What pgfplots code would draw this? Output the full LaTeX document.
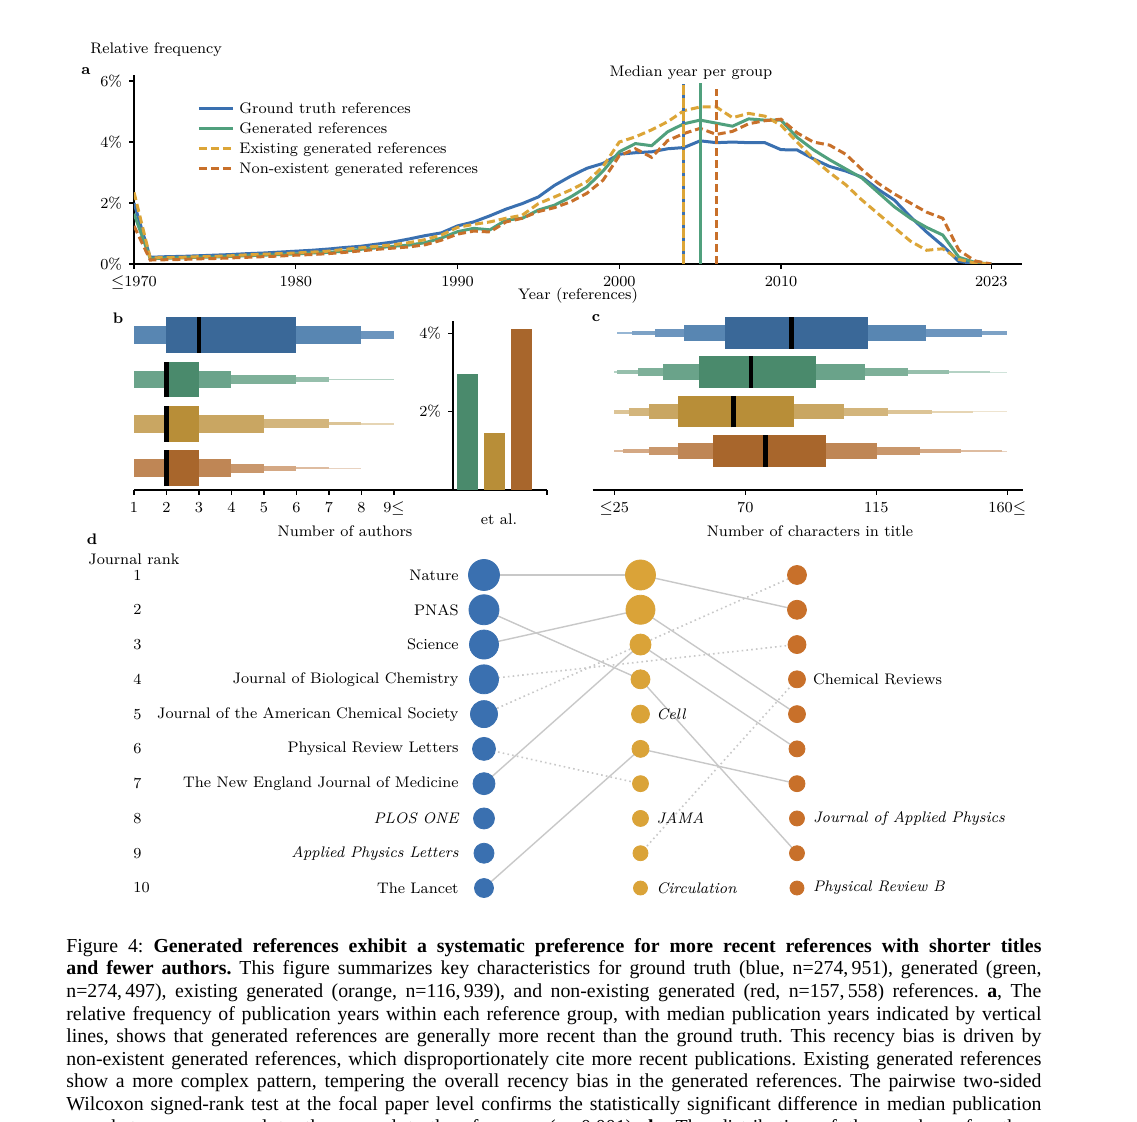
\documentclass[border=0pt]{standalone}
\usepackage{pgfplots}
\pgfplotsset{compat=1.18}
\usepackage{pgfplotstable}
\usepackage{fontspec}
\newfontfamily\capfont{Liberation Serif}

% line colours (panel a) and dot colours (panel d)
\definecolor{cGT}{RGB}{58,112,176}
\definecolor{cGen}{RGB}{80,160,125}
\definecolor{cEx}{RGB}{220,165,55}
\definecolor{cNon}{RGB}{200,112,42}
\definecolor{dEx}{RGB}{218,163,56}
\definecolor{link}{RGB}{200,200,200}
% boxen shades
\definecolor{b1}{RGB}{58,104,152}
\definecolor{b2}{RGB}{88,134,178}
\definecolor{b3}{RGB}{108,149,190}
\definecolor{b4}{RGB}{125,162,198}
\definecolor{b5}{RGB}{150,182,212}
\definecolor{g1}{RGB}{74,138,108}
\definecolor{g2}{RGB}{106,163,138}
\definecolor{g3}{RGB}{126,176,153}
\definecolor{g4}{RGB}{150,191,172}
\definecolor{g5}{RGB}{180,210,196}
\definecolor{g6}{RGB}{208,227,218}
\definecolor{o1}{RGB}{184,142,56}
\definecolor{o2}{RGB}{201,166,98}
\definecolor{o3}{RGB}{211,181,124}
\definecolor{o4}{RGB}{220,196,150}
\definecolor{o5}{RGB}{230,213,180}
\definecolor{o6}{RGB}{238,228,208}
\definecolor{r1}{RGB}{168,102,44}
\definecolor{r2}{RGB}{191,134,85}
\definecolor{r3}{RGB}{201,151,108}
\definecolor{r4}{RGB}{212,168,132}
\definecolor{r5}{RGB}{222,188,160}
\definecolor{r6}{RGB}{232,210,192}

\newcommand{\cf}{\fontsize{7.65}{9.2}\selectfont}
% one boxen level: colour, x from, x to, y low, y high
\newcommand{\bx}[5]{\addplot[fill=#1,draw=none,forget plot] coordinates {(#2,#4) (#3,#4) (#3,#5) (#2,#5)};}
% median bar
\newcommand{\md}[3]{\addplot[black,line width=2.4pt,forget plot] coordinates {(#1,#2) (#1,#3)};}
% one justified caption line
\newcommand{\cl}[1]{\hbox to 487.5pt{#1}}

\pgfplotsset{
  base/.style={scale only axis, font=\cf, tick align=outside,
    axis line style={line width=0.6pt}, tick style={line width=0.6pt,black},
    major tick length=2.5pt, clip=false},
  dots/.style={only marks, mark=*, mark options={draw=#1,fill=#1},
    visualization depends on={\thisrow{r}\as\rad}, scatter,
    scatter/@pre marker code/.style={/tikz/mark size=\rad},
    scatter/@post marker code/.style={}},
  lk/.style={link, line width=0.7pt, forget plot},
  lkd/.style={link, line width=0.8pt, dash pattern=on 0.8pt off 1.6pt, forget plot},
}

% relative frequency of publication years (%)
\pgfplotstableread{
year gt gen ex non
1970 2.00 1.65 2.35 1.25
1971 0.22 0.18 0.20 0.13
1972 0.24 0.19 0.21 0.14
1973 0.25 0.20 0.22 0.15
1974 0.27 0.22 0.24 0.17
1975 0.29 0.23 0.25 0.18
1976 0.31 0.25 0.27 0.20
1977 0.34 0.27 0.30 0.22
1978 0.36 0.29 0.32 0.24
1979 0.39 0.31 0.34 0.26
1980 0.42 0.33 0.36 0.29
1981 0.45 0.36 0.39 0.31
1982 0.49 0.38 0.42 0.34
1983 0.54 0.42 0.48 0.38
1984 0.58 0.48 0.53 0.43
1985 0.65 0.53 0.58 0.48
1986 0.72 0.58 0.63 0.52
1987 0.82 0.62 0.70 0.56
1988 0.93 0.70 0.80 0.63
1989 1.02 0.85 0.95 0.78
1990 1.25 1.06 1.20 0.98
1991 1.38 1.17 1.30 1.08
1992 1.58 1.12 1.38 1.05
1993 1.80 1.44 1.50 1.38
1994 1.98 1.50 1.60 1.50
1995 2.20 1.77 1.98 1.72
1996 2.58 1.93 2.20 1.85
1997 2.88 2.20 2.43 2.04
1998 3.14 2.53 2.70 2.32
1999 3.30 3.05 3.20 2.75
2000 3.60 3.68 4.00 3.55
2001 3.65 3.95 4.17 3.78
2002 3.68 3.88 4.40 3.50
2003 3.78 4.34 4.67 4.05
2004 3.82 4.60 5.03 4.28
2005 4.04 4.72 5.15 4.45
2006 3.98 4.62 5.15 4.25
2007 4.00 4.52 4.80 4.35
2008 3.98 4.76 4.94 4.60
2009 3.98 4.72 4.85 4.70
2010 3.75 4.72 4.55 4.75
2011 3.74 4.15 4.00 4.30
2012 3.45 3.75 3.45 4.00
2013 3.20 3.42 3.00 3.90
2014 3.05 3.12 2.60 3.60
2015 2.85 2.82 2.10 3.10
2016 2.45 2.35 1.65 2.65
2017 2.10 1.88 1.20 2.30
2018 1.55 1.50 0.75 2.00
2019 1.05 1.20 0.45 1.70
2020 0.60 0.95 0.50 1.50
2021 0.08 0.22 0.15 0.45
2022 0.02 0.05 0.03 0.10
2023 0.00 0.00 0.00 0.00
}\years

% journal ranks: column, rank, dot radius (pt)
\pgfplotstableread{
x y r
0 1 7.75
0 2 7.5
0 3 7.25
0 4 7.25
0 5 6.75
0 6 5.75
0 7 5.5
0 8 5.25
0 9 5.0
0 10 4.75
}\dgt
\pgfplotstableread{
x y r
1 1 7.5
1 2 7.25
1 3 5.25
1 4 4.75
1 5 4.5
1 6 4.25
1 7 4.0
1 8 4.0
1 9 3.75
1 10 3.5
}\dex
\pgfplotstableread{
x y r
2 1 4.75
2 2 4.75
2 3 4.5
2 4 4.25
2 5 4.25
2 6 4.0
2 7 4.0
2 8 3.75
2 9 3.75
2 10 3.5
}\dnon

\begin{document}
\begin{tikzpicture}
\useasboundingbox (0pt,0pt) rectangle (568.5pt,-561pt);
\fill[white] (0pt,0pt) rectangle (568.5pt,-561pt);
\clip (0pt,0pt) rectangle (568.5pt,-561pt);

% ---- a: publication years
\begin{axis}[base, at={(67pt,-132pt)}, anchor=south west,
  width=444pt, height=94.5pt,
  xmin=1970, xmax=2024.9, ymin=0, ymax=6.2,
  axis x line*=bottom, axis y line*=left,
  xtick={1970,1980,1990,2000,2010,2023},
  xticklabels={$\leq$1970,1980,1990,2000,2010,2023},
  ytick={0,2,4,6}, yticklabels={0\%,2\%,4\%,6\%},
  clip=true,
  legend style={at={(0.071,0.875)}, anchor=north west, draw=none, fill=none,
    inner sep=0pt, font=\cf, row sep=0.5pt,
    nodes={inner sep=1pt, text height=6pt, text depth=1.5pt, anchor=west}},
  legend cell align=left,
  legend image code/.code={\draw[#1] (0pt,0pt) -- (17pt,0pt);},
  ]
  \addplot[cGT, line width=1.5pt] table[x=year,y=gt]{\years};
  \addlegendentry{\hspace{1.5pt}Ground truth references}
  \addplot[cGen, line width=1.5pt] table[x=year,y=gen]{\years};
  \addlegendentry{\hspace{1.5pt}Generated references}
  \addplot[cEx, line width=1.5pt, dash pattern=on 4pt off 2pt] table[x=year,y=ex]{\years};
  \addlegendentry{\hspace{1.5pt}Existing generated references}
  \addplot[cNon, line width=1.5pt, dash pattern=on 4pt off 2pt] table[x=year,y=non]{\years};
  \addlegendentry{\hspace{1.5pt}Non-existent generated references}
  % medians
  \addplot[cGT, line width=1.5pt, forget plot] coordinates {(2004,0) (2004,5.9)};
  \addplot[cEx, line width=1.5pt, dash pattern=on 5pt off 1.5pt, forget plot] coordinates {(2004,0) (2004,5.9)};
  \addplot[cGen, line width=1.5pt, forget plot] coordinates {(2005,0) (2005,5.95)};
  \addplot[cNon, line width=1.5pt, dash pattern=on 4pt off 2pt, forget plot] coordinates {(2006,0) (2006,5.75)};
\end{axis}

% ---- b: number of authors
\begin{axis}[base, at={(67pt,-245pt)}, anchor=south west,
  width=206.5pt, height=88.55pt,
  xmin=1, xmax=13.71, ymin=-0.49, ymax=3.5,
  axis x line*=bottom, axis y line=none,
  xtick={1,2,3,4,5,6,7,8,9,13.71},
  xticklabels={1,2,3,4,5,6,7,8,9$\leq$,{}},
  ]
  \bx{b3}{1}{9}{2.91}{3.09}
  \bx{b2}{1}{8}{2.8}{3.2}
  \bx{b1}{2}{6}{2.6}{3.4}
  \md{3}{2.6}{3.4}
  \bx{g5}{1}{9}{1.985}{2.015}
  \bx{g4}{1}{7}{1.945}{2.055}
  \bx{g3}{1}{6}{1.9}{2.1}
  \bx{g2}{1}{4}{1.8}{2.2}
  \bx{g1}{2}{3}{1.6}{2.4}
  \md{2}{1.6}{2.4}
  \bx{o5}{1}{9}{0.985}{1.015}
  \bx{o4}{1}{8}{0.965}{1.035}
  \bx{o3}{1}{7}{0.9}{1.1}
  \bx{o2}{1}{5}{0.8}{1.2}
  \bx{o1}{2}{3}{0.6}{1.4}
  \md{2}{0.6}{1.4}
  \bx{r6}{1}{8}{-0.012}{0.012}
  \bx{r5}{1}{7}{-0.028}{0.028}
  \bx{r4}{1}{6}{-0.053}{0.053}
  \bx{r3}{1}{5}{-0.1}{0.1}
  \bx{r2}{1}{4}{-0.2}{0.2}
  \bx{r1}{2}{3}{-0.4}{0.4}
  \md{2}{-0.4}{0.4}
\end{axis}

% ---- b: share of "et al."
\begin{axis}[base, at={(226.5pt,-245pt)}, anchor=south west,
  width=47pt, height=84.5pt,
  xmin=-0.52, xmax=2.96, ymin=0, ymax=4.31,
  axis x line=none, axis y line*=left,
  ytick={2,4}, yticklabels={2\%,4\%},
  ]
  \addplot[ybar, bar width=10.5pt, bar shift=0pt, fill=g1, draw=none] coordinates {(0,2.96)};
  \addplot[ybar, bar width=10.5pt, bar shift=0pt, fill=o1, draw=none] coordinates {(1,1.45)};
  \addplot[ybar, bar width=10.5pt, bar shift=0pt, fill=r1, draw=none] coordinates {(2,4.10)};
\end{axis}

% ---- c: title length
\begin{axis}[base, at={(296.35pt,-245pt)}, anchor=south west,
  width=215.3pt, height=88.45pt,
  xmin=17.6, xmax=165.5, ymin=-0.99, ymax=3.5,
  axis x line*=bottom, axis y line=none,
  xtick={25,70,115,160},
  xticklabels={$\leq$25,70,115,160$\leq$},
  ]
  \bx{b5}{25.8}{160}{2.98}{3.02}
  \bx{b4}{31}{160}{2.95}{3.05}
  \bx{b3}{39}{151.2}{2.9}{3.1}
  \bx{b2}{48.9}{132.1}{2.8}{3.2}
  \bx{b1}{63}{112}{2.6}{3.4}
  \md{85.9}{2.6}{3.4}
  \bx{g6}{25}{160}{1.988}{2.012}
  \bx{g5}{25}{154}{1.975}{2.025}
  \bx{g4}{26.1}{140}{1.95}{2.05}
  \bx{g3}{33}{126}{1.9}{2.1}
  \bx{g2}{41.8}{111.1}{1.8}{2.2}
  \bx{g1}{54.1}{94.2}{1.6}{2.4}
  \md{72}{1.6}{2.4}
  \bx{o6}{25}{160}{0.988}{1.012}
  \bx{o5}{25}{148.1}{0.975}{1.025}
  \bx{o4}{25}{134}{0.95}{1.05}
  \bx{o3}{30.2}{119.1}{0.9}{1.1}
  \bx{o2}{37}{104}{0.8}{1.2}
  \bx{o1}{47}{86.8}{0.6}{1.4}
  \md{65.9}{0.6}{1.4}
  \bx{r6}{25}{160}{-0.012}{0.012}
  \bx{r5}{25}{158.1}{-0.025}{0.025}
  \bx{r4}{28.1}{144}{-0.05}{0.05}
  \bx{r3}{37}{130}{-0.1}{0.1}
  \bx{r2}{47}{115.1}{-0.2}{0.2}
  \bx{r1}{59}{97.9}{-0.4}{0.4}
  \md{77}{-0.4}{0.4}
\end{axis}

% ---- d: journal ranks
\begin{axis}[base, at={(202.875pt,-452.7pt)}, anchor=south west,
  width=234.75pt, height=173.9pt,
  xmin=-0.5, xmax=2.5, ymin=0.5, ymax=10.5, y dir=reverse,
  hide axis,
  ]
  \addplot[dots=cGT] table[x=x,y=y]{\dgt};
  \addplot[dots=dEx] table[x=x,y=y]{\dex};
  \addplot[dots=cNon] table[x=x,y=y]{\dnon};
  % links
  \addplot[lk] coordinates {(0,1) (1,1)};
  \addplot[lk] coordinates {(0,2) (1,4)};
  \addplot[lk] coordinates {(0,3) (1,2)};
  \addplot[lk] coordinates {(0,7) (1,3)};
  \addplot[lk] coordinates {(0,10) (1,6)};
  \addplot[lkd] coordinates {(0,6) (1,7)};
  \addplot[lkd] coordinates {(0,4) (2,3)};
  \addplot[lkd] coordinates {(0,5) (2,1)};
  \addplot[lk] coordinates {(1,1) (2,2)};
  \addplot[lk] coordinates {(1,2) (2,5)};
  \addplot[lk] coordinates {(1,3) (2,6)};
  \addplot[lk] coordinates {(1,4) (2,9)};
  \addplot[lk] coordinates {(1,6) (2,7)};
  \addplot[lkd] coordinates {(1,9) (2,4)};
  % journal names
  \path[font=\cf, every node/.style={inner sep=0pt}]
    (axis cs:-0.16,1) node[anchor=east] {Nature}
    (axis cs:-0.16,2) node[anchor=east] {PNAS}
    (axis cs:-0.16,3) node[anchor=east] {Science}
    (axis cs:-0.16,4) node[anchor=east] {Journal of Biological Chemistry}
    (axis cs:-0.16,5) node[anchor=east] {Journal of the American Chemical Society}
    (axis cs:-0.16,6) node[anchor=east] {Physical Review Letters}
    (axis cs:-0.16,7) node[anchor=east] {The New England Journal of Medicine}
    (axis cs:-0.16,8) node[anchor=east] {\itshape PLOS ONE}
    (axis cs:-0.16,9) node[anchor=east] {\itshape Applied Physics Letters}
    (axis cs:-0.16,10) node[anchor=east] {The Lancet}
    (axis cs:1.1,5) node[anchor=west] {\itshape Cell}
    (axis cs:1.1,8) node[anchor=west] {\itshape JAMA}
    (axis cs:1.1,10) node[anchor=west] {\itshape Circulation}
    (axis cs:2.1,4) node[anchor=west] {Chemical Reviews}
    (axis cs:2.1,8) node[anchor=west] {\itshape Journal of Applied Physics}
    (axis cs:2.1,10) node[anchor=west] {\itshape Physical Review B};
\end{axis}

% ---- texts placed in pixel units of the reference
\begin{scope}[x=0.5pt, y=-0.5pt, font=\cf]
  \node[anchor=west, inner sep=0pt] at (90,50) {Relative frequency};
  \node[font=\cf\bfseries] at (86,71) {a};
  \node at (691,73) {Median year per group};
  \node at (578,296) {Year (references)};
  \node[font=\cf\bfseries] at (118,318) {b};
  \node at (499,519) {et al.};
  \node at (345,531) {Number of authors};
  \node[font=\cf\bfseries] at (596,318) {c};
  \node at (810,531) {Number of characters in title};
  \node[font=\cf\bfseries] at (92,539) {d};
  \node[anchor=west, inner sep=0pt] at (88,559) {Journal rank};
  \foreach \k in {1,...,10}
    \node[anchor=west, inner sep=0pt] at (133,{575+(\k-1)*34.78}) {\k};
  \node[anchor=north west, inner sep=0pt,
        font=\capfont\fontsize{9.9}{11.3}\selectfont] at (66,938) {\vbox{%
\frenchspacing
\spaceskip=0.25em plus 0.3em minus 0.1em
\cl{Figure 4: \textbf{Generated references exhibit a systematic preference for more recent references with shorter titles}}
\cl{\textbf{and fewer authors.} This figure summarizes key characteristics for ground truth (blue, n=274,\,951), generated (green,}
\cl{n=274,\,497), existing generated (orange, n=116,\,939), and non-existing generated (red, n=157,\,558) references. \textbf{a}, The}
\cl{relative frequency of publication years within each reference group, with median publication years indicated by vertical}
\cl{lines, shows that generated references are generally more recent than the ground truth. This recency bias is driven by}
\cl{non-existent generated references, which disproportionately cite more recent publications. Existing generated references}
\cl{show a more complex pattern, tempering the overall recency bias in the generated references. The pairwise two-sided}
\cl{Wilcoxon signed-rank test at the focal paper level confirms the statistically significant difference in median publication}
\cl{year between compared to the ground truth references (p$<$0.001). \textbf{b}, The distribution of the number of authors}}};
\end{scope}
\end{tikzpicture}
\end{document}
